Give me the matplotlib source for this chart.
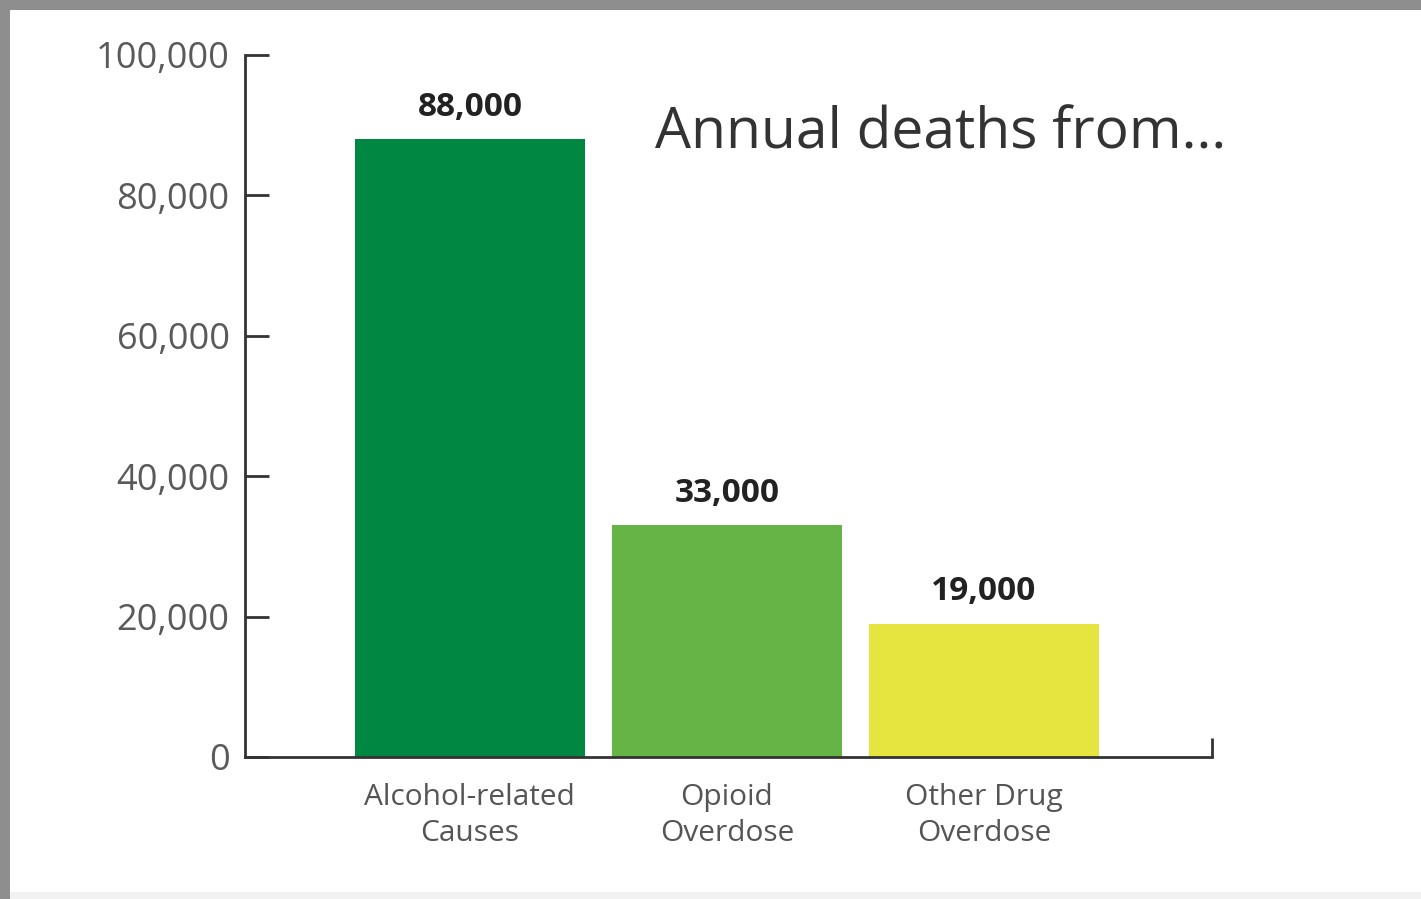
import matplotlib.pyplot as plt
from matplotlib.patches import Rectangle
from matplotlib.ticker import FuncFormatter

categories = ["Alcohol-related\nCauses", "Opioid\nOverdose", "Other Drug\nOverdose"]
deaths = [88000, 33000, 19000]
value_labels = ["88,000", "33,000", "19,000"]
colors = ["#008742", "#67b446", "#e6e43f"]
yticks = [0, 20000, 40000, 60000, 80000, 100000]

plt.rcParams['font.family'] = ['Open Sans', 'DejaVu Sans']

fig = plt.figure(figsize=(14.21, 8.99), dpi=100)
fig.patch.set_facecolor("#8e8e8e")
# white panel inside the grey frame
fig.patches.append(Rectangle((10 / 1421, 7 / 899), 1 - 10 / 1421, 1 - 17 / 899,
                             transform=fig.transFigure, facecolor="white",
                             edgecolor="none", zorder=-10))
fig.patches.append(Rectangle((10 / 1421, 0), 1, 7 / 899,
                             transform=fig.transFigure, facecolor="#f2f2f2",
                             edgecolor="none", zorder=-10))

ax = fig.add_axes([0.1724, 0.158, 0.6805, 0.7809])
ax.set_facecolor("none")

x = range(len(categories))
ax.bar(x, deaths, width=0.895, color=colors, zorder=2)

for i, (v, lab) in enumerate(zip(deaths, value_labels)):
    ax.annotate(lab, (i, v), xytext=(0, 23), textcoords="offset points",
                ha="center", va="center", fontsize=24, fontweight="bold",
                color="#222222")

xmax = 2.887
ax.set_xlim(-0.875, xmax)
ax.set_ylim(0, 100000)

ax.set_yticks(yticks)
ax.yaxis.set_major_formatter(FuncFormatter(lambda v, p: f"{int(v):,}"))
ax.set_xticks(list(x))
ax.set_xticklabels(categories, linespacing=1.32)

ax.tick_params(axis="y", direction="in", length=17, width=2, color="#333333",
               labelsize=26, labelcolor="#5a5a5a", pad=11)
ax.tick_params(axis="x", length=0, labelsize=21.5, labelcolor="#555555", pad=19)
# small upturned end of the x axis
ax.set_xticks([xmax], minor=True)
ax.tick_params(axis="x", which="minor", direction="in", length=14, width=2,
               color="#333333")

for s in ["top", "right"]:
    ax.spines[s].set_visible(False)
for s in ["left", "bottom"]:
    ax.spines[s].set_linewidth(2)
    ax.spines[s].set_color("#333333")

ax.text(655 / 1421, 1 - 134 / 899, "Annual deaths from...", transform=fig.transFigure,
        fontsize=41, color="#333333", ha="left", va="center")

fig.savefig("out.png", dpi=100, facecolor=fig.get_facecolor())
